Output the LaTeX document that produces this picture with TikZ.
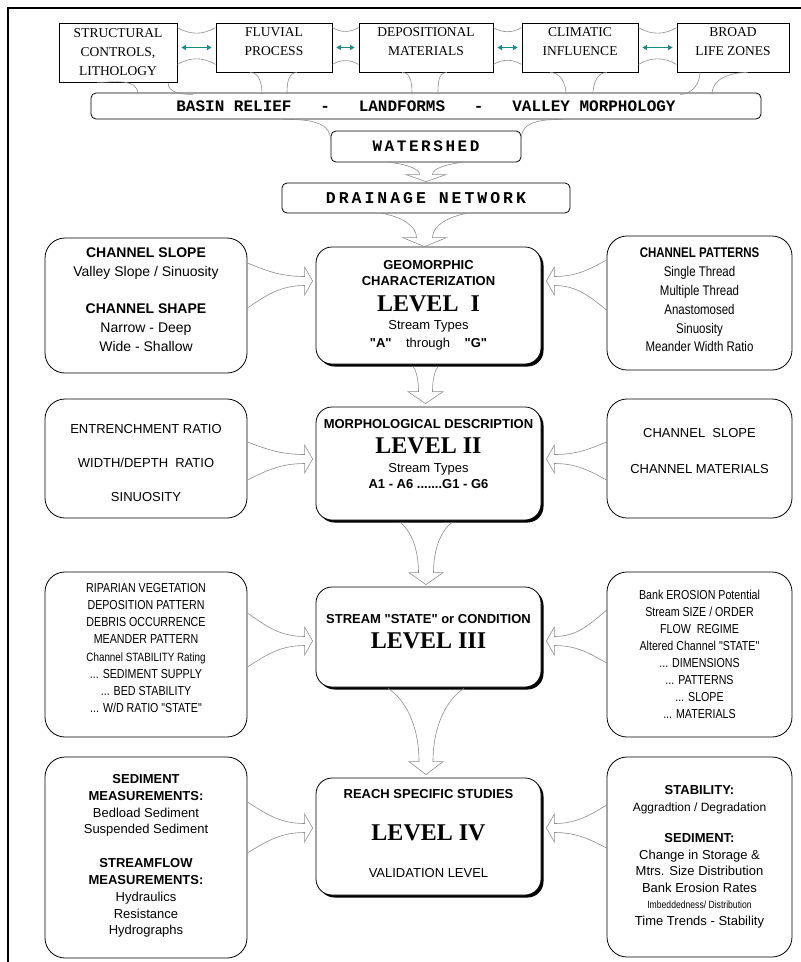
\documentclass[tikz,border=0pt]{standalone}
\usepackage{fontspec}
\setmainfont{Liberation Serif}
\newfontfamily\plainsf{Liberation Sans}
\newfontfamily\narrowsf[FakeStretch=0.82]{Liberation Sans}
\newfontfamily\bandfont{Liberation Mono}
\usepackage{tikz}
\usetikzlibrary{calc,positioning,shadows,arrows.meta}
\usepackage{xcolor}
\definecolor{mteal}{HTML}{1F8A80}
\definecolor{mgrey}{HTML}{8C8C8C}
\tikzstyle{l1}=[line width=0.8]
\tikzstyle{topbox}=[draw, l1, align=center, inner sep=0pt, font=\fontsize{13.5}{19}\selectfont]
\tikzstyle{band}=[draw, l1, rounded corners=5pt, inner sep=0pt, font=\bandfont\bfseries\fontsize{16}{18}\selectfont]
\tikzstyle{sidebox}=[draw, l1, rounded corners=20pt, align=center, inner sep=0pt, font=\plainsf\fontsize{13}{17}\selectfont]
\tikzstyle{levbox}=[draw, l1, fill=white, rounded corners=16pt, align=center, inner sep=0pt, minimum width=225pt, drop shadow={shadow xshift=2.5pt, shadow yshift=-2.5pt, fill=black, opacity=1}, font=\plainsf\bfseries\fontsize{13}{16}\selectfont]
\tikzstyle{flow}=[draw=mgrey, line width=0.6]
\tikzstyle{twoway}=[mteal, line width=1.1, {Triangle[length=4.5pt,width=5pt]}-{Triangle[length=4.5pt,width=5pt]}]
\newcommand{\lev}[1]{{\rmfamily\bfseries\fontsize{24}{26}\selectfont LEVEL #1}}
% open block arrow, downwards: source, tip, top half width, stem half width, head half width, head depth
\newcommand{\vflow}[6]{%
  \draw[flow] let \p1=(#1), \p2=(#2), \n1={\y1-(\y2)-#6} in
    (\x1-#3,\y1) .. controls (\x1-#3+0.55*#3-0.55*#4,\y1-0.15*\n1) and (\x1-#4,\y1-0.5*\n1) .. (\x1-#4,\y2+#6)
    -- (\x1-#5,\y2+#6) -- (\x1,\y2) -- (\x1+#5,\y2+#6) -- (\x1+#4,\y2+#6)
    .. controls (\x1+#4,\y1-0.5*\n1) and (\x1+#3-0.55*#3+0.55*#4,\y1-0.15*\n1) .. (\x1+#3,\y1);}
% open block arrow, sideways: source, tip, upper offset, lower offset, stem half width, head half height, head depth
\newcommand{\hflow}[7]{%
  \draw[flow] let \p1=(#1), \p2=(#2), \n1={\x2-(\x1)-(#7)}, \n2={\x2-(#7)} in
    (\x1,\y2+#3) .. controls (\x1+0.3*\n1,\y2+0.5*#3+0.5*#5) and (\x1+0.55*\n1,\y2+#5) .. (\n2,\y2+#5)
    -- (\n2,\y2+#6) -- (\x2,\y2) -- (\n2,\y2-#6) -- (\n2,\y2-#5)
    .. controls (\x1+0.55*\n1,\y2-#5) and (\x1+0.3*\n1,\y2-0.5*#4-0.5*#5) .. (\x1,\y2-#4);}

\begin{document}
\begin{tikzpicture}[x=1pt, y=1pt, node distance=10pt, on grid]
    \useasboundingbox (0,0) rectangle (801,-962);
    \draw[line width=2.2] (8,-962) -- (8,-8) -- (801,-8);

    % top row
    \node[topbox, minimum width=134pt, minimum height=49pt] (tb3) at (426,-47.5) {DEPOSITIONAL\\MATERIALS\\[-8pt]~};
    \node[topbox, minimum width=116pt, minimum height=49pt] (tb2) [left=152pt of tb3] {FLUVIAL\\PROCESS\\[-8pt]~};
    \node[topbox, minimum width=118pt, minimum height=59pt] (tb1) [below left=5pt and 156pt of tb2] {STRUCTURAL\\CONTROLS,\\LITHOLOGY};
    \node[topbox, minimum width=116pt, minimum height=49pt] (tb4) [right=154pt of tb3] {CLIMATIC\\INFLUENCE\\[-8pt]~};
    \node[topbox, minimum width=112pt, minimum height=49pt] (tb5) [right=153pt of tb4] {BROAD\\LIFE ZONES\\[-8pt]~};

    \draw[twoway] ($(tb1.east |- tb2.west)+(4,0)$) -- ($(tb2.west)+(-4,0)$);
    \foreach \a/\b in {tb2/tb3, tb3/tb4, tb4/tb5}
        \draw[twoway] ($(\a.east)+(4,0)$) -- ($(\b.west)+(-4,0)$);
    \foreach \a/\b in {tb1/tb2, tb2/tb3, tb3/tb4, tb4/tb5}{
            \draw[flow] ($(\a.north east)+(0,-5)$) to[out=-30,in=-150] ($(\b.north west)+(0,-5)$);
            \draw[flow] ($(\b.south west -| \a.east)+(0,8)$) to[out=30,in=150] ($(\b.south west)+(0,8)$);
        }

    \node[band, minimum width=670pt, minimum height=26pt] (band) at (426,-106) {BASIN RELIEF~~~-~~~LANDFORMS~~~-~~~VALLEY MORPHOLOGY};
    \foreach \b/\p/\q/\o/\i/\d in {tb1/-21/20/0/90/12, tb1/50/75/-90/180/12, tb2/-24/-12/0/90/22, tb2/23/13/180/90/22, tb3/-24/-14/0/90/22, tb3/21/12/180/90/22,
            tb4/-30/-14/0/90/22, tb4/27/13/180/90/22, tb5/-33/-53/-90/0/22, tb5/15/-21/180/90/22}
        \draw[flow] ($(\b.south)+(\p,0)$) to[out=\o,in=\i] ($(\b.south)+(\q,-\d)$);

    \node[band, minimum width=190pt, minimum height=31pt, font=\bandfont\bfseries\fontsize{16}{18}\selectfont\addfontfeatures{LetterSpace=16}] (ws) [below=40.5pt of band] {WATERSHED};
    \node[band, minimum width=288pt, minimum height=30pt, font=\bandfont\bfseries\fontsize{16.5}{18}\selectfont\addfontfeatures{LetterSpace=18}] (dr) [below=51.5pt of ws] {DRAINAGE NETWORK};
    \draw[flow] ($(band.south)+(-143,0)$) to[out=0,in=90] ($(ws.west)+(0,6.5)$);
    \draw[flow] ($(band.south)+(137,0)$) to[out=180,in=90] ($(ws.east)+(0,8.5)$);
    \vflow{ws.south}{$(dr.north)+(0,1)$}{36.5}{6.5}{20}{7}

    % levels
    \node[levbox, minimum height=117pt] (c1) at (428.5,-305.5) {GEOMORPHIC\\CHARACTERIZATION\\[10.5pt]\lev{\ I}\\[2pt]{\mdseries Stream Types}\\[2pt]"A"~~~~{\mdseries through}~~~~"G"};
    \node[levbox, minimum height=113pt] (c2) [below=158pt of c1] {MORPHOLOGICAL DESCRIPTION\\[9pt]\lev{II}\\[3pt]{\mdseries Stream Types}\\A1 - A6 .......G1 - G6\\[4pt]~};
    \node[levbox, minimum height=100pt] (c3) [below=173.5pt of c2] {STREAM "STATE" or CONDITION\\[9pt]\lev{III}\\[-4pt]~};
    \node[levbox, minimum height=117pt] (c4) [below=199.5pt of c3] {REACH SPECIFIC STUDIES\\[26pt]\lev{IV}\\[21pt]{\mdseries VALIDATION LEVEL}\\[-9pt]~};

    \vflow{$(dr.south)+(-1.5,0)$}{c1.north}{42}{8}{22}{9}
    \vflow{$(c1.south)+(-3,-2)$}{$(c2.north)+(0,3)$}{12.5}{7}{17.5}{12}
    \vflow{$(c2.south)+(-2.5,-2)$}{$(c3.north)+(0,2)$}{26}{7.5}{17}{12}
    \vflow{$(c3.south)+(-2.5,-1)$}{$(c4.north)+(0,3)$}{38}{7}{17}{13}

    % left column
    \node[sidebox, minimum width=202pt, minimum height=135pt, font=\plainsf\fontsize{14}{19}\selectfont] (lb1) [left=282.5pt of c1] {\textbf{CHANNEL SLOPE}\\Valley Slope / Sinuosity\\[18pt]\textbf{CHANNEL SHAPE}\\Narrow - Deep\\Wide - Shallow\\[-8pt]~};
    \node[sidebox, minimum width=202pt, minimum height=119pt, font=\plainsf\fontsize{13}{34}\selectfont] (lb2) [above left=5pt and 282.5pt of c2] {~\\[-16pt]ENTRENCHMENT RATIO\\WIDTH/DEPTH~~RATIO\\SINUOSITY};
    \node[sidebox, minimum width=202pt, minimum height=165pt, font=\narrowsf\fontsize{13}{17.2}\selectfont] (lb3) [below left=17.5pt and 282.5pt of c3] {RIPARIAN VEGETATION\\DEPOSITION PATTERN\\DEBRIS OCCURRENCE\\MEANDER PATTERN\\{\fontsize{12}{15}\selectfont Channel STABILITY Rating}\\... SEDIMENT SUPPLY\\... BED STABILITY\\... W/D RATIO "STATE"\\[-4pt]~};
    \node[sidebox, minimum width=202pt, minimum height=201pt, font=\plainsf\fontsize{13}{16.8}\selectfont] (lb4) [below left=21pt and 282.5pt of c4] {\textbf{SEDIMENT}\\\textbf{MEASUREMENTS:}\\Bedload Sediment\\Suspended Sediment\\[17pt]\textbf{STREAMFLOW}\\\textbf{MEASUREMENTS:}\\Hydraulics\\Resistance\\Hydrographs\\[-11pt]~};

    % right column
    \node[sidebox, minimum width=185pt, minimum height=134pt, font=\narrowsf\fontsize{14}{18.8}\selectfont] (rb1) [above right=2.5pt and 271pt of c1] {\textbf{CHANNEL PATTERNS}\\Single Thread\\Multiple Thread\\Anastomosed\\Sinuosity\\Meander Width Ratio\\[-13pt]~};
    \node[sidebox, minimum width=185pt, minimum height=119pt, font=\plainsf\fontsize{13}{36}\selectfont] (rb2) [above right=5pt and 271pt of c2] {CHANNEL~~SLOPE\\CHANNEL MATERIALS\\[-20pt]~};
    \node[sidebox, minimum width=185pt, minimum height=165pt, font=\narrowsf\fontsize{13}{17}\selectfont] (rb3) [below right=17.5pt and 271pt of c3] {Bank EROSION Potential\\Stream SIZE / ORDER\\FLOW~~REGIME\\Altered Channel "STATE"\\... DIMENSIONS\\... PATTERNS\\... SLOPE\\... MATERIALS};
    \node[sidebox, minimum width=185pt, minimum height=200pt, font=\plainsf\fontsize{13}{16.5}\selectfont] (rb4) [below right=20.5pt and 271pt of c4] {~\\[-8pt]\textbf{STABILITY:}\\{\fontsize{12}{15}\selectfont Aggradtion / Degradation}\\[15pt]\textbf{SEDIMENT:}\\Change in Storage \&\\Mtrs. Size Distribution\\Bank Erosion Rates\\{\narrowsf\fontsize{10.5}{14}\selectfont Imbeddedness/ Distribution}\\Time Trends - Stability};

    % side arrows
    \hflow{lb1.east}{$(c1.west)+(-3,24.5)$}{18}{27}{4.5}{14}{8}
    \hflow{lb2.east}{$(c2.west)+(-3,4.5)$}{17}{21}{4.5}{14}{8}
    \hflow{lb3.east}{$(c3.west)+(-3,-4)$}{28}{26}{4.5}{14}{8}
    \hflow{lb4.east}{$(c4.west)+(-3,8.5)$}{26}{25}{4.5}{14}{8}
    \hflow{rb1.west}{$(c1.east)+(5,24.5)$}{21}{29}{4.5}{14}{-8}
    \hflow{rb2.west}{$(c2.east)+(5,4.5)$}{17}{21}{4.5}{14}{-8}
    \hflow{rb3.west}{$(c3.east)+(5,-4)$}{31}{22}{4.5}{14}{-8}
    \hflow{rb4.west}{$(c4.east)+(5,8.5)$}{23}{20}{4.5}{14}{-8}

\end{tikzpicture}
\end{document}
